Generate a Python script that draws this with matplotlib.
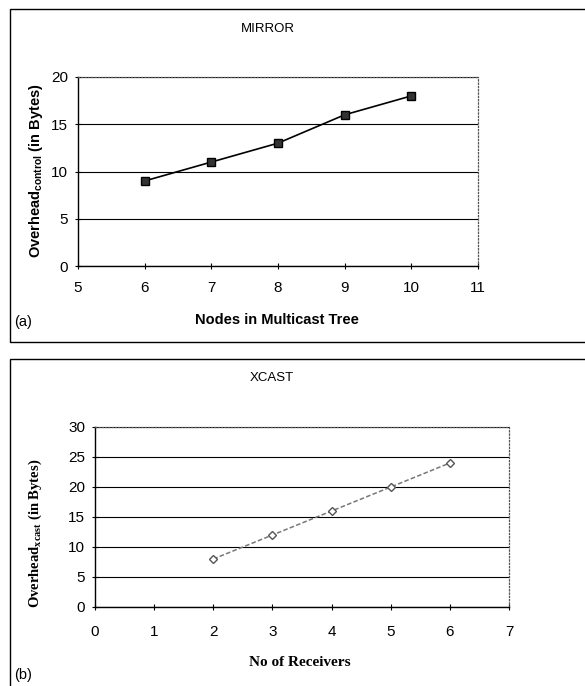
import matplotlib.pyplot as plt
from matplotlib.patches import Rectangle

# panel (a) MIRROR
mirror_nodes = [6, 7, 8, 9, 10]
mirror_overhead = [9, 11, 13, 16, 18]
mirror_xticks = [5, 6, 7, 8, 9, 10, 11]
mirror_yticks = [0, 5, 10, 15, 20]

# panel (b) XCAST
xcast_receivers = [2, 3, 4, 5, 6]
xcast_overhead = [8, 12, 16, 20, 24]
xcast_xticks = [0, 1, 2, 3, 4, 5, 6, 7]
xcast_yticks = [0, 5, 10, 15, 20, 25, 30]

W, H = 585, 686
SANS = "Liberation Sans"
SERIF = "Liberation Serif"


def px_axes(fig, left, top, right, bottom):
    return fig.add_axes([left / W, 1 - bottom / H, (right - left) / W, (bottom - top) / H])


def style_axes(ax, xticks, yticks, xpad):
    ax.set_xlim(xticks[0], xticks[-1])
    ax.set_ylim(yticks[0], yticks[-1])
    ax.set_xticks(xticks)
    ax.set_yticks(yticks)
    for t in ax.get_xticklabels() + ax.get_yticklabels():
        t.set_fontfamily(SANS)
        t.set_fontsize(11)
    ax.yaxis.grid(True, color="black", linewidth=0.8)
    ax.set_axisbelow(True)
    for side in ["top", "right"]:
        ax.spines[side].set_linestyle(":")
        ax.spines[side].set_color("#555555")
        ax.spines[side].set_linewidth(0.9)
    ax.spines["left"].set_linewidth(1.0)
    ax.spines["bottom"].set_linewidth(1.0)
    ax.tick_params(direction="inout", length=4, width=0.8)
    ax.tick_params(axis="x", pad=xpad)
    ax.tick_params(axis="y", pad=5)


fig = plt.figure(figsize=(W / 100, H / 100), dpi=100)

# outer panel boxes
fig.patches.append(Rectangle((10 / W, 1 - 342 / H), 590 / W, 333 / H, transform=fig.transFigure,
                             fill=False, edgecolor="black", linewidth=1.0))
fig.patches.append(Rectangle((10 / W, 1 - 700 / H), 590 / W, 341 / H, transform=fig.transFigure,
                             fill=False, edgecolor="black", linewidth=1.0))

# ---- (a) MIRROR
ax1 = px_axes(fig, 78, 77, 478, 266)
style_axes(ax1, mirror_xticks, mirror_yticks, 9)
ax1.plot(mirror_nodes, mirror_overhead, color="black", linewidth=1.2,
         marker="s", markersize=5.5, markerfacecolor="#333333", markeredgecolor="black")
fig.text(268 / W, 1 - 29 / H, "MIRROR", ha="center", va="center", fontsize=9.5, family=SANS)
fig.text(277 / W, 1 - 320 / H, "Nodes in Multicast Tree", ha="center", va="center",
         fontsize=10.5, fontweight="bold", family=SANS)
fig.text(36 / W, 1 - 171 / H, r"Overhead$_{\mathregular{control}}$ (in Bytes)", rotation=90,
         ha="center", va="center", fontsize=10.5, fontweight="bold", family=SANS)
fig.text(14 / W, 1 - 322 / H, "(a)", ha="left", va="center", fontsize=10.5, family=SANS)

# ---- (b) XCAST
ax2 = px_axes(fig, 95, 427, 509, 607)
style_axes(ax2, xcast_xticks, xcast_yticks, 11)
ax2.plot(xcast_receivers, xcast_overhead, color="#777777", linewidth=1.1, linestyle=(0, (3, 1.5)),
         marker="D", markersize=4, markerfacecolor="white", markeredgecolor="#555555")
fig.text(272 / W, 1 - 378 / H, "XCAST", ha="center", va="center", fontsize=9.5, family=SANS)
fig.text(300 / W, 1 - 662 / H, "No of Receivers", ha="center", va="center",
         fontsize=11, fontweight="bold", family=SERIF)
fig.text(35 / W, 1 - 533 / H, r"Overhead$_{\mathregular{xcast}}$ (in Bytes)", rotation=90,
         ha="center", va="center", fontsize=10.5, fontweight="bold", family=SERIF)
fig.text(14 / W, 1 - 675 / H, "(b)", ha="left", va="center", fontsize=10.5, family=SANS)

fig.savefig("out.png", dpi=100)
